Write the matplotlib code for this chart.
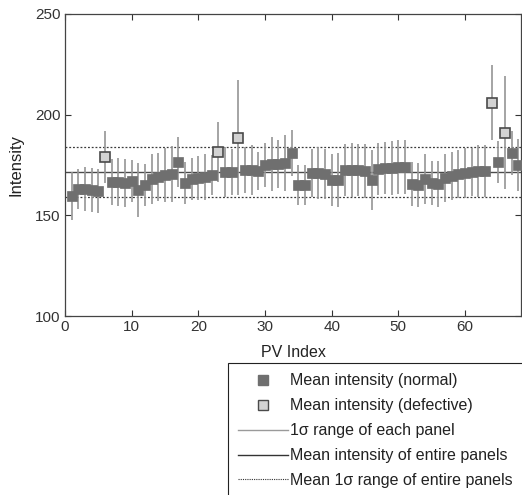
import numpy as np
import matplotlib
matplotlib.use('Agg')
import matplotlib.pyplot as plt
from matplotlib.lines import Line2D

plt.rcParams['font.family'] = ['Liberation Sans', 'DejaVu Sans']
plt.rcParams['font.size'] = 11

# ==========================================
# DATA
# ==========================================
pv_index = np.arange(1, 69)
mean_intensity = [
    159.5, 163, 163, 162.5, 162, 179, 166.5, 166.5, 166, 167,
    162.5, 165, 168, 169, 170, 170.5, 176.5, 166, 168, 168.5,
    169, 170, 181.5, 171.5, 171.5, 188.5, 172.5, 172.5, 172, 175,
    175.5, 175.5, 176, 181, 165, 165, 171, 171, 170.5, 167.5,
    167.5, 172.5, 172.5, 172.5, 172, 167.5, 173, 173.5, 173.5, 174,
    174, 165.5, 165, 168, 166, 165.5, 168.5, 169.5, 170.5, 171,
    171.5, 172, 172, 206, 176.5, 191, 181, 175,
]
std_intensity = [
    12, 10, 11, 11, 11, 13, 11.5, 12, 12, 10.5,
    13.5, 10.5, 12.5, 12, 13.5, 14, 12.5, 10.5, 10.5, 11,
    11.5, 10, 15, 12.5, 11.5, 28.5, 11.5, 12.5, 9.5, 11,
    13.5, 12, 14, 11.5, 10, 10, 12, 13, 12.5, 13,
    13.5, 13, 13.5, 13, 13.5, 15, 13, 13, 13.5, 13.5,
    13.5, 11, 11, 12.5, 11, 11.5, 12, 12, 12, 12.5,
    12, 13, 13, 18.5, 10.5, 28, 11, 13,
]
defective_idx = [6, 23, 26, 64, 66]

overall_mean = 171.5
overall_std = 12.2

mean_arr = np.array(mean_intensity)
std_arr = np.array(std_intensity)
is_def = np.isin(pv_index, defective_idx)

# ==========================================
# PLOT
# ==========================================
fig = plt.figure(figsize=(5.22, 4.95), dpi=100)
ax = fig.add_axes([65/522, 1-316/495, 456/522, 302/495])

err_col = '#959595'
ax.errorbar(pv_index, mean_arr, yerr=std_arr, fmt='none', ecolor=err_col,
            elinewidth=1.2, capsize=0, zorder=2)
ax.axhline(overall_mean, color='#4a4a4a', linewidth=1.0, zorder=1)
ax.axhline(overall_mean + overall_std, color='#3a3a3a', linewidth=0.9,
           linestyle=(0, (1.5, 1.5)), zorder=1)
ax.axhline(overall_mean - overall_std, color='#3a3a3a', linewidth=0.9,
           linestyle=(0, (1.5, 1.5)), zorder=1)

ax.plot(pv_index[~is_def], mean_arr[~is_def], linestyle='none', marker='s',
        markersize=7.8, markerfacecolor='#6f6f6f', markeredgecolor='#6f6f6f',
        markeredgewidth=0.5, zorder=3)
ax.plot(pv_index[is_def], mean_arr[is_def], linestyle='none', marker='s',
        markersize=7.2, markerfacecolor='#d2d2d2', markeredgecolor='#4a4a4a',
        markeredgewidth=1.2, zorder=4)

ax.set_xlim(0, 68.4)
ax.set_ylim(100, 250)
ax.set_xticks(np.arange(0, 61, 10))
ax.set_yticks([100, 150, 200, 250])
ax.tick_params(direction='in', length=4, width=0.8, top=True, right=True,
               colors='#333333', labelsize=11, pad=3)
for s in ax.spines.values():
    s.set_color('#444444')
    s.set_linewidth(0.9)
ax.set_xlabel('PV Index', fontsize=11.5, color='#222222')
ax.set_ylabel('Intensity', fontsize=12, color='#222222')
ax.xaxis.set_label_coords(0.5, -0.095)
ax.yaxis.set_label_coords(-0.092, 0.5)

handles = [
    Line2D([], [], linestyle='none', marker='s', markersize=7,
           markerfacecolor='#6f6f6f', markeredgecolor='#6f6f6f'),
    Line2D([], [], linestyle='none', marker='s', markersize=6.5,
           markerfacecolor='#d2d2d2', markeredgecolor='#4a4a4a', markeredgewidth=1),
    Line2D([], [], color='#9a9a9a', linewidth=1.0),
    Line2D([], [], color='#333333', linewidth=1.0),
    Line2D([], [], color='#333333', linewidth=0.8, linestyle=(0, (1, 1))),
]
labels = ['Mean intensity (normal)', 'Mean intensity (defective)',
          '1σ range of each panel', 'Mean intensity of entire panels',
          'Mean 1σ range of entire panels']
leg = fig.legend(handles, labels, loc='upper left',
                 bbox_to_anchor=(228/522, 1-363/495), borderaxespad=0,
                 fontsize=11.5, handlelength=3.1, handletextpad=0.15,
                 labelspacing=0.62, borderpad=0.65, fancybox=False,
                 framealpha=1, edgecolor='#222222')
leg.get_frame().set_linewidth(0.8)
for t in leg.get_texts():
    t.set_color('#222222')

fig.savefig('out.png', dpi=100)
